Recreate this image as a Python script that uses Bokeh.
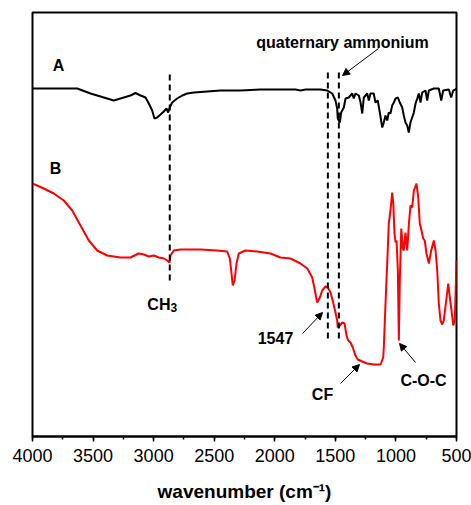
from bokeh.plotting import figure
from bokeh.models import Range1d, SingleIntervalTicker, Label, Arrow, NormalHead
from bokeh.embed import file_html
from bokeh.resources import INLINE

# Spectrum A (black), wavenumber (cm-1) and transmittance (a.u.)
wn_a = [4000, 3631, 3521, 3329, 3191, 3150, 3108, 3067, 3040, 3012, 2993, 2971, 2943, 2916,
        2894, 2880, 2867, 2847, 2806, 2764, 2723, 2668, 2558, 2448, 2366, 2283, 2118, 1953,
        1829, 1788, 1746, 1623, 1567, 1526, 1499, 1485, 1480, 1463, 1452, 1430, 1416, 1389,
        1361, 1348, 1334, 1306, 1292, 1278, 1265, 1237, 1224, 1210, 1183, 1169, 1150, 1133,
        1113, 1100, 1086, 1072, 1059, 1045, 1031, 1017, 1003, 984, 968, 948, 935, 921, 907,
        894, 880, 866, 852, 838, 824, 811, 797, 783, 756, 742, 728, 687, 646, 626, 610, 563,
        544, 527, 508, 500]
t_a = [348, 348, 343, 336, 341, 343.5, 341, 339, 333, 326, 318, 319, 322, 325,
       328, 324, 329, 334, 338, 341, 343, 344, 345, 346, 346, 346, 347, 347,
       347, 346, 347, 347, 346, 343, 336, 328, 318, 314, 324, 329, 338, 339,
       343, 338, 343, 341, 334, 323, 339, 343, 336, 343, 343, 334, 336, 324,
       309, 314, 321, 316, 324, 323, 331, 334, 338, 339, 334, 329, 321, 314, 311,
       304, 314, 319, 324, 333, 338, 343, 334, 344, 346, 336, 346, 348, 348, 336, 346, 347,
       339, 346, 347, 348]

# Spectrum B (red)
wn_b = [4000, 3907, 3824, 3742, 3672, 3604, 3535, 3466, 3383, 3274, 3191, 3123, 3081, 3040,
        2999, 2957, 2916, 2888, 2869, 2861, 2834, 2778, 2613, 2475, 2393, 2371, 2357, 2347,
        2332, 2316, 2297, 2242, 2145, 2035, 1953, 1870, 1788, 1732, 1691, 1672, 1650, 1628,
        1609, 1581, 1562, 1540, 1518, 1499, 1485, 1480, 1463, 1443, 1424, 1408, 1394, 1375,
        1356, 1334, 1315, 1278, 1237, 1183, 1127, 1105, 1100, 1086, 1072, 1059, 1045, 1031,
        1022, 1012, 1003, 995, 984, 976, 968, 956, 943, 935, 921, 907, 894, 880, 866, 852,
        830, 816, 803, 789, 775, 762, 748, 728, 709, 687, 673, 659, 646, 632, 618, 605, 582,
        568, 555, 541, 527, 514, 500]
t_b = [253, 248, 243, 236, 226, 211, 196, 186, 181, 179, 179, 183, 182, 180,
       181, 179, 178, 176, 174, 181, 186, 187, 187, 186, 185, 178, 163, 151,
       156, 173, 183, 186, 185, 183, 179, 178, 173, 168, 159, 148, 134, 139,
       146, 150, 149, 144, 134, 124, 116, 109, 111, 114, 113, 101, 96, 94,
       89, 81, 77, 75, 73, 72, 72, 79, 89, 133, 173, 213, 226, 244,
       234, 203, 194, 196, 166, 96, 156, 208, 188, 186, 204, 186, 211, 231, 229, 246,
       253, 239, 213, 206, 198, 196, 183, 173, 186, 196, 186, 166, 133, 116, 112, 116, 139,
       153, 139, 126, 111, 116, 176]

# Marker lines
marker_wn = [2867, 1562, 1471]
marker_top = [363, 367, 367]
marker_bottom = [156, 98, 98]

FONT = "Liberation Sans"

p = figure(width=471, height=505, output_backend="svg", toolbar_location=None,
           x_range=Range1d(4000, 500), y_range=Range1d(0, 424),
           y_axis_location=None, min_border_left=32, min_border_right=15,
           min_border_top=12, min_border_bottom=69)
p.background_fill_color = "white"
p.border_fill_color = "white"
p.outline_line_color = "black"
p.outline_line_width = 2
p.grid.visible = False

ax = p.xaxis[0]
ax.ticker = SingleIntervalTicker(interval=500, num_minor_ticks=2)
ax.axis_line_width = 2
ax.axis_line_color = "black"
ax.major_tick_in = 0
ax.major_tick_out = 5
ax.minor_tick_in = 0
ax.minor_tick_out = 3
ax.major_tick_line_width = 1.5
ax.minor_tick_line_width = 1.5
ax.major_label_text_font = FONT
ax.major_label_text_font_size = "18px"
ax.major_label_text_color = "black"
ax.major_label_standoff = 7
ax.axis_label = "wavenumber (cm\u207b\u00b9)"
ax.axis_label_text_font = FONT
ax.axis_label_text_font_size = "19px"
ax.axis_label_text_font_style = "bold"
ax.axis_label_text_color = "black"
ax.axis_label_standoff = 16

p.line(wn_a, t_a, color="black", line_width=2)
p.line(wn_b, t_b, color="#ff0000", line_width=2)
p.segment(x0=marker_wn, y0=marker_bottom, x1=marker_wn, y1=marker_top,
          color="black", line_width=2, line_dash="6 4")

def lab(x, y, text, size="16px", align="center", baseline="middle"):
    p.add_layout(Label(x=x, y=y, text=text, text_font=FONT, text_font_size=size,
                       text_font_style="bold", text_color="black",
                       text_align=align, text_baseline=baseline))

lab(3785, 371, "A")
lab(3810, 268, "B")
lab(1441, 394, "quaternary ammonium")
lab(2861, 132, "CH", size="16px", align="right")
lab(2861, 129, "3", size="12px", align="left")
lab(1994, 99, "1547")
lab(1606, 42, "CF")
lab(772, 56, "C-O-C")

def arrow(x0, y0, x1, y1):
    p.add_layout(Arrow(end=NormalHead(size=7, line_color="black", fill_color="black", line_width=1),
                       x_start=x0, y_start=y0, x_end=x1, y_end=y1,
                       line_color="black", line_width=1))

arrow(1144, 388, 1441, 361)
arrow(1771, 103, 1606, 124)
arrow(1457, 53, 1301, 72)
arrow(838, 74, 970, 93)

open("out.html", "w").write(file_html(p, INLINE))
